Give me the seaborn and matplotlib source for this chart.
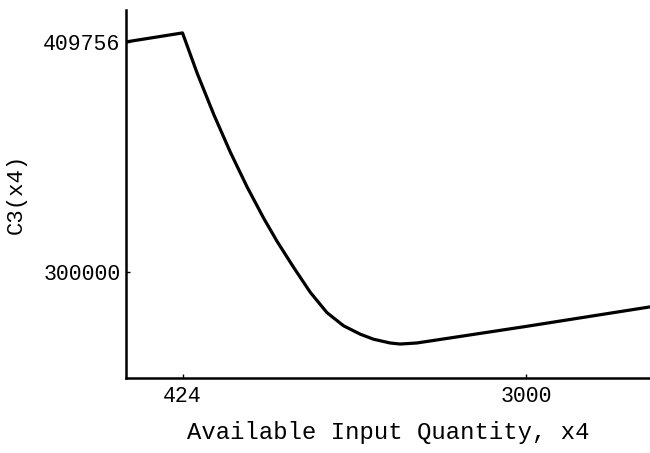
import seaborn as sns
import matplotlib.pyplot as plt
import pandas as pd

# values
x4 = [0, 424, 534, 658, 783, 908, 1033, 1133, 1257, 1382, 1507, 1632,
      1757, 1856, 1981, 2056, 2181, 2306, 2431, 3000, 3928]
c3 = [409756, 414050, 394800, 375200, 357100, 340600, 325600, 314600,
      302200, 290300, 280600, 274300, 270300, 267900, 266100, 265600,
      266100, 267300, 268500, 274000, 283300]

x_ticks = [424, 3000]
y_ticks = [300000, 409756]

df = pd.DataFrame({"x4": x4, "C3": c3})

sns.set_style("ticks")
plt.rcParams["font.family"] = ["Liberation Mono", "DejaVu Sans Mono"]
plt.rcParams["text.color"] = "black"
plt.rcParams["axes.labelcolor"] = "black"

fig = plt.figure(figsize=(6.5, 4.53), dpi=100)
ax = fig.add_axes([0.1938, 0.1656, 0.8062, 0.8124])

sns.lineplot(data=df, x="x4", y="C3", ax=ax, color="black", linewidth=2.3,
             sort=False, estimator=None, solid_joinstyle="round")

ax.set_xlim(0, 3930)
ax.set_ylim(249400, 425000)
ax.set_xticks(x_ticks)
ax.set_xticklabels([str(t) for t in x_ticks])
ax.set_yticks(y_ticks)
ax.set_yticklabels([str(t) for t in y_ticks])
ax.tick_params(direction="in", length=3, width=1, labelsize=15.5,
               colors="black")
ax.tick_params(axis="x", pad=6)
ax.tick_params(axis="y", pad=4)

sns.despine(ax=ax)
for side in ("left", "bottom"):
    ax.spines[side].set_linewidth(1.8)
    ax.spines[side].set_color("black")

ax.set_xlabel("Available Input Quantity, x4", fontsize=17.2, labelpad=10)
ax.set_ylabel("C3(x4)", fontsize=16, labelpad=12)

fig.savefig("out.png", dpi=100, facecolor="white")
